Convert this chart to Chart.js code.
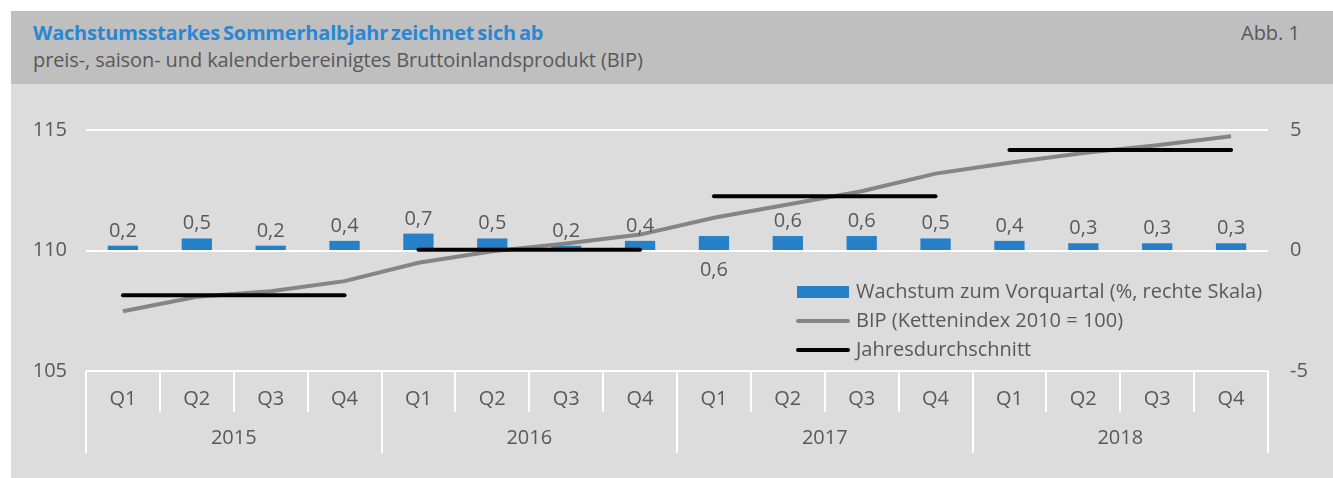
<!DOCTYPE html>
<html>
<head>
<meta charset="utf-8">
<script src="https://cdn.jsdelivr.net/npm/chart.js@4/dist/chart.umd.min.js"></script>
<style>
  html, body { margin: 0; padding: 0; background: #ffffff; }
  #frame { position: absolute; left: 11px; top: 11px; width: 1322px; height: 467px; background: #dcdcdc; }
  #header { position: absolute; left: 0; top: 0; width: 1322px; height: 73px; background: #bfbfbf; font-family: "Open Sans", sans-serif; }
  #title { position: absolute; left: 22px; top: 8px; font-size: 20px; font-weight: 700; color: #2b86d3; letter-spacing: -0.2px; word-spacing: -2px; white-space: nowrap; }
  #subtitle { position: absolute; left: 22px; top: 35px; font-size: 20px; color: #595959; letter-spacing: -0.1px; white-space: nowrap; }
  #abb { position: absolute; right: 33px; top: 8px; font-size: 20px; color: #595959; white-space: nowrap; }
  #wrap { position: absolute; left: 0; top: 73px; width: 1322px; height: 394px; }
</style>
</head>
<body>
<div id="frame">
  <div id="header">
    <div id="title">Wachstumsstarkes Sommerhalbjahr zeichnet sich ab</div>
    <div id="subtitle">preis-, saison- und kalenderbereinigtes Bruttoinlandsprodukt (BIP)</div>
    <div id="abb">Abb. 1</div>
  </div>
  <div id="wrap"><canvas id="c" width="1322" height="394"></canvas></div>
</div>
<script>
// ---- data ----
const quarters = ['Q1','Q2','Q3','Q4','Q1','Q2','Q3','Q4','Q1','Q2','Q3','Q4','Q1','Q2','Q3','Q4'];
const years = ['2015','2016','2017','2018'];
const growth = [0.2,0.5,0.2,0.4, 0.7,0.5,0.2,0.4, 0.6,0.6,0.6,0.5, 0.4,0.3,0.3,0.3];
const bip = [107.48,108.08,108.31,108.73, 109.49,109.97,110.29,110.66, 111.36,111.91,112.46,113.19, 113.64,114.05,114.37,114.74];
const yearAvg = [108.14,110.03,112.25,114.17];
const leftTicks = [105,110,115];
const rightTicks = [-5,0,5];
const seriesLabels = ['Wachstum zum Vorquartal (%, rechte Skala)','BIP (Kettenindex 2010 = 100)','Jahresdurchschnitt'];

const avgPerQuarter = quarters.map((q, i) => yearAvg[Math.floor(i / 4)]);
const TXT = '#595959';
const FONT = '"Open Sans", sans-serif';

const decor = {
  id: 'decor',
  afterDraw(chart) {
    const ctx = chart.ctx;
    const ca = chart.chartArea;
    const xs = chart.scales.x;
    const n = quarters.length;
    const w = (ca.right - ca.left) / n;
    ctx.save();
    // separators
    ctx.strokeStyle = '#ffffff';
    ctx.lineWidth = 2;
    for (let i = 0; i <= n; i++) {
      const x = Math.round(ca.left + i * w);
      const long = (i % 4 === 0);
      ctx.beginPath();
      ctx.moveTo(x, ca.bottom);
      ctx.lineTo(x, ca.bottom + (long ? 82 : 41));
      ctx.stroke();
    }
    // data labels
    const ys = chart.scales.y1;
    ctx.fillStyle = TXT;
    ctx.font = '20px ' + FONT;
    ctx.textAlign = 'center';
    ctx.textBaseline = 'alphabetic';
    growth.forEach((v, i) => {
      const x = xs.getPixelForValue(i);
      const txt = v.toFixed(1).replace('.', ',');
      if (i === 8) {
        ctx.fillText(txt, x, ys.getPixelForValue(0) + 25);
      } else {
        ctx.fillText(txt, x, ys.getPixelForValue(v) - 9);
      }
    });
    // legend
    const lx = 786, rows = [208, 237, 266];
    ctx.textAlign = 'left';
    ctx.textBaseline = 'middle';
    ctx.font = '20px ' + FONT;
    chart.data.datasets.forEach((ds, k) => {
      const y = rows[k];
      if (k === 0) {
        ctx.fillStyle = ds.backgroundColor;
        ctx.fillRect(lx, y - 6, 52, 12);
      } else {
        ctx.strokeStyle = ds.borderColor;
        ctx.lineWidth = 4;
        ctx.lineCap = 'round';
        ctx.beginPath();
        ctx.moveTo(lx + 1, y);
        ctx.lineTo(lx + 51, y);
        ctx.stroke();
      }
      ctx.fillStyle = TXT;
      ctx.fillText(ds.label, lx + 59, y);
    });
    ctx.restore();
  }
};

new Chart(document.getElementById('c'), {
  data: {
    labels: quarters,
    datasets: [
      { type: 'bar', label: seriesLabels[0], data: growth, yAxisID: 'y1', xAxisID: 'x',
        backgroundColor: '#2680c8', barPercentage: 0.41, categoryPercentage: 1, order: 3 },
      { type: 'line', label: seriesLabels[1], data: bip, yAxisID: 'y', xAxisID: 'x',
        borderColor: '#858585', borderWidth: 4, pointRadius: 0, tension: 0, order: 2 },
      { type: 'line', label: seriesLabels[2], data: avgPerQuarter, yAxisID: 'y', xAxisID: 'x',
        borderColor: '#000000', borderWidth: 4, pointRadius: 0, tension: 0, borderCapStyle: 'round', order: 1,
        segment: { borderColor: c => (Math.floor(c.p0DataIndex / 4) !== Math.floor(c.p1DataIndex / 4)) ? 'rgba(0,0,0,0)' : '#000000' } }
    ]
  },
  options: {
    responsive: false,
    animation: false,
    events: [],
    layout: { padding: { left: 0, right: 0, top: 46, bottom: 25 } },
    plugins: { legend: { display: false }, tooltip: { enabled: false }, title: { display: false } },
    scales: {
      x: {
        type: 'category', position: 'bottom', offset: true,
        grid: { display: false, drawTicks: false },
        border: { display: false },
        ticks: { color: TXT, font: { family: FONT, size: 20 }, padding: 16, autoSkip: false, maxRotation: 0 },
        afterFit(s) { s.height = 42; }
      },
      x2: {
        type: 'category', position: 'bottom', labels: years, offset: true,
        grid: { display: false, drawTicks: false },
        border: { display: false },
        ticks: { color: TXT, font: { family: FONT, size: 20 }, padding: 13, maxRotation: 0 },
        afterFit(s) { s.height = 40; }
      },
      y: {
        position: 'left', min: 105, max: 115,
        afterBuildTicks(s) { s.ticks = leftTicks.map(v => ({ value: v })); },
        grid: { color: '#ffffff', lineWidth: 2, drawTicks: false },
        border: { display: false },
        ticks: { color: TXT, font: { family: FONT, size: 20 }, padding: 19 },
        afterFit(s) { s.width = 75; }
      },
      y1: {
        position: 'right', min: -5, max: 5,
        afterBuildTicks(s) { s.ticks = rightTicks.map(v => ({ value: v })); },
        grid: { drawOnChartArea: false, drawTicks: false },
        border: { display: false },
        ticks: { color: TXT, font: { family: FONT, size: 20 }, padding: 22 },
        afterFit(s) { s.width = 65; }
      }
    }
  },
  plugins: [decor]
});
</script>
</body>
</html>
